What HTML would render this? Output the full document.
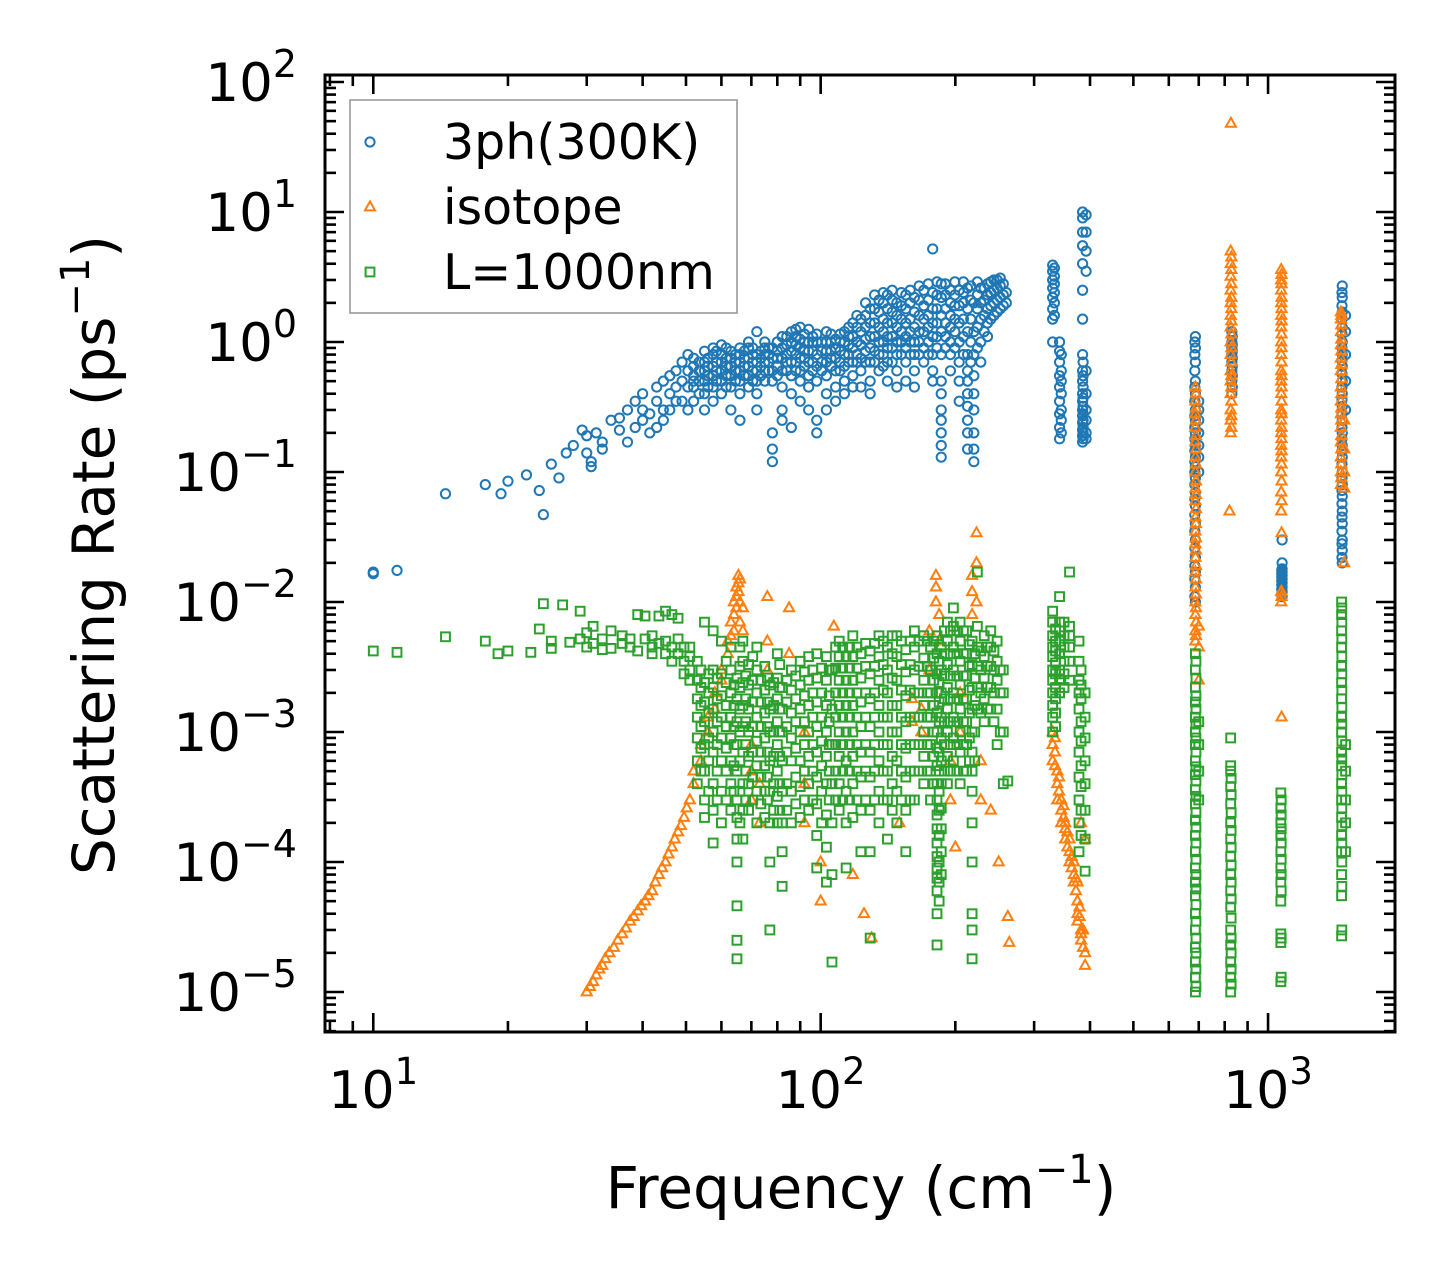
<!DOCTYPE html>
<html><head><meta charset="utf-8"><style>
html,body{margin:0;padding:0;background:#fff;}
svg{display:block;font-family:"DejaVu Sans","Liberation Sans",sans-serif;}
</style></head><body>
<svg id="chart" width="1455" height="1282" viewBox="0 0 1455 1282" xmlns="http://www.w3.org/2000/svg">
<rect width="1455" height="1282" fill="#fff"/>
<g id="marks"></g>
<g id="axes"></g>
<g id="legend"></g>
</svg>
<script>
const xTickExps = [1, 2, 3];
const yTickExps = [2, 1, 0, -1, -2, -3, -4, -5];
const xDomain = [7.8, 1922];
const yDomain = [Math.pow(10, 2 + 7 / 130), Math.pow(10, -5 - 40 / 130)];

const blueData = [
[10,[0.0165,0.017]],[11.3,[0.0175]],[14.5,[0.068]],[17.8,[0.08]],[19.3,[0.068]],[20,[0.085]],[22,[0.095]],[23.5,[0.072]],[24,[0.047]],[25,[0.115]],[26,[0.09]],[27,[0.14]],[28,[0.16]],[29.3,[0.21]],[30,[0.14,0.19]],[30.7,[0.11,0.12]],[31.5,[0.2]],[32.5,[0.17,0.15]],[34,[0.25]],[35.5,[0.26,0.21]],[37,[0.3,0.17]],[38.5,[0.35,0.22]],[40,[0.3,0.25,0.4]],[41.5,[0.28,0.2]],[43,[0.35,0.45,0.22]],[44.5,[0.3,0.5,0.25]],[46,[0.4,0.3,0.55]],[47.5,[0.45,0.35,0.6]],[49,[0.5,0.35,0.7]],[50.5,[0.45,0.6,0.3,0.8]],
[52,[0.35,0.45,0.55,0.65,0.75,0.5]],[55,[0.4,0.5,0.6,0.7,0.85,0.3]],[57.5,[0.45,0.55,0.65,0.8,0.9,0.35]],[60,[0.4,0.5,0.6,0.7,0.8,0.95]],[63,[0.45,0.55,0.65,0.75,0.85,0.3]],[66,[0.5,0.6,0.7,0.8,0.9,0.4,0.25]],[69,[0.45,0.55,0.65,0.75,0.9,1.0]],[72,[0.4,0.5,0.6,0.7,0.8,0.3,1.2]],[75,[0.5,0.6,0.7,0.8,0.9,1.0]],[78,[0.12,0.15,0.2,0.5,0.6,0.75,0.9]],[82,[0.3,0.45,0.6,0.75,0.9,1.1,0.25]],[86,[0.4,0.55,0.7,0.85,1.0,1.2,0.22]],[90,[0.5,0.6,0.75,0.9,1.05,1.3,0.35]],[94,[0.45,0.55,0.7,0.85,1.0,1.25,0.3]],[98,[0.2,0.25,0.5,0.65,0.8,1.0,1.15]],[103,[0.4,0.55,0.7,0.85,1.0,1.2,0.3]],[108,[0.45,0.6,0.75,0.9,1.05,0.35]],[113,[0.5,0.65,0.8,1.0,1.2,0.4]],[118,[0.55,0.7,0.9,1.1,1.4,0.45]],[123,[0.6,0.75,0.95,1.2,1.5,0.45]],[129,[0.5,0.7,0.9,1.1,1.4,1.8,0.4]],[135,[0.6,0.8,1.0,1.3,1.7,2.1]],[141,[0.5,0.7,0.9,1.1,1.4,1.8,2.3]],[148,[0.6,0.8,1.0,1.3,1.6,2.0,0.45]],[155,[0.7,0.9,1.1,1.4,1.8,2.3,0.5]],[162,[0.6,0.8,1.0,1.3,1.7,2.2,0.45]],[170,[0.7,0.9,1.2,1.5,1.9,2.5]],[178,[0.6,0.8,1.1,1.4,1.8,2.4,5.2,0.5]],[186,[0.13,0.16,0.2,0.25,0.3,0.4,0.5,0.8,1.2,1.6,2.2,2.8]],[195,[0.8,1.0,1.3,1.6,2.0,2.5,0.6]],[204,[0.5,0.7,1.0,1.4,1.9,2.5,0.35]],[213,[0.15,0.2,0.25,0.32,0.4,0.5,0.6,0.8,1.2,1.8,2.6]],[220,[0.12,0.15,0.2,0.3,0.4,0.55,0.8,1.2,2.0]],[228,[1.0,1.5,2.0,2.6,0.7]],[236,[1.4,1.8,2.3,2.8,1.1]],[244,[1.6,2.0,2.5,3.0]],[252,[1.8,2.2,2.7,3.1]],[260,[2.0,2.4]],
[330,[1.5,1.8,2.2,2.6,3.0,3.5,3.9,1.0]],[342,[0.18,0.22,0.28,0.35,0.45,0.55,0.7,0.85,1.0]],[385,[0.17,0.19,0.21,0.24,0.27,0.3,0.35,0.4,0.5,0.6,0.8,1.5,2.5,4,5.5,7,9,10]],[392,[0.18,0.2,0.25,0.3,0.4,0.6,3.5,5,7,9.5]],
[688,[0.01,0.013,0.017,0.022,0.03,0.04,0.055,0.07,0.09,0.11,0.13,0.16,0.2,0.25,0.3,0.4,0.5,0.7,0.9,1.1]],[700,[0.1,0.13,0.16,0.2,0.25,0.3,0.35]],[830,[0.4,0.5,0.6,0.7,0.8,0.9,1.0,1.2]],[1075,[0.011,0.012,0.013,0.014,0.015,0.016,0.017,0.018,0.02,0.03]],[1465,[0.02,0.025,0.03,0.04,0.05,0.065,0.08,0.1,0.13,0.16,0.2,0.25,0.32,0.4,0.5,0.65,0.8,1.0,1.3,1.7,2.2,2.7]],[1490,[0.3,0.5,0.8,1.2,1.6]]
];
const blueExtra = [
[53.5,[0.4,0.5,0.6,0.7]],[56,[0.45,0.55,0.65,0.75]],[58.5,[0.5,0.6,0.7,0.85]],[61.5,[0.45,0.55,0.65,0.75,0.9]],[64.5,[0.5,0.6,0.7,0.8]],[67.5,[0.55,0.65,0.75,0.85]],[70.5,[0.5,0.6,0.7,0.8,0.9]],[73.5,[0.55,0.65,0.75,0.85]],[76.5,[0.6,0.7,0.8,0.9]],[80,[0.55,0.65,0.75,0.85,1.0]],[84,[0.6,0.7,0.8,0.95,1.1]],[88,[0.6,0.7,0.8,0.95,1.1,1.25]],[92,[0.65,0.75,0.85,1.0,1.15]],[96,[0.6,0.7,0.85,1.0,1.1]],[100.5,[0.6,0.7,0.85,1.0]],[105.5,[0.65,0.75,0.85,1.0,1.15]],[110.5,[0.6,0.7,0.85,1.0,1.15]],[115.5,[0.7,0.8,0.95,1.1,1.3]],[120.5,[0.7,0.8,1.0,1.3,1.6]],[126,[0.7,0.85,1.05,1.3,1.6,2.0]],[132,[0.7,0.85,1.1,1.4,1.8,2.3]],[138,[0.65,0.8,1.0,1.2,1.5,2.0,2.4]],[144.5,[0.7,0.9,1.1,1.4,1.7,2.1,2.5]],[151.5,[0.8,1.0,1.2,1.5,1.9,2.4]],[158.5,[0.8,1.0,1.2,1.5,2.0,2.5]],[166,[0.8,1.0,1.2,1.6,2.1,2.7]],[174,[0.8,1.0,1.3,1.6,2.1,2.8]],[182,[0.9,1.1,1.4,1.8,2.3,2.9]],[190,[0.9,1.1,1.4,1.8,2.3,2.8]],[199.5,[0.9,1.2,1.5,1.9,2.3,2.9]],[208.5,[0.8,1.1,1.5,2.0,2.4,2.9]],[216.5,[0.7,1.0,1.5,2.1,2.7]],[224,[0.9,1.3,1.8,2.3,2.9]],[232,[1.2,1.6,2.1,2.6]],[240,[1.5,1.9,2.4,2.9]],[248,[1.7,2.1,2.6,3.0]],[256,[1.9,2.3,2.8]],
[686,[0.011,0.015,0.019,0.026,0.035,0.047,0.062,0.08,0.1,0.12,0.145,0.18,0.22,0.27,0.35,0.45,0.6,0.8,1.0]],[1463,[0.022,0.028,0.035,0.045,0.057,0.072,0.09,0.115,0.145,0.18,0.22,0.28,0.36,0.45,0.57,0.72,0.9,1.15,1.5,1.9,2.4]],[386,[0.18,0.2,0.22,0.25,0.28,0.32,0.37,0.45,0.55,0.7]],[333,[1.6,2.0,2.4,2.8,3.2,3.7]],[345,[0.2,0.25,0.3,0.4,0.5,0.6,0.8]],[832,[0.45,0.55,0.65,0.75,0.85,0.95,1.1]],[1073,[0.0115,0.0125,0.0135,0.0145,0.0155,0.0165,0.0175]]
];

const orangeData = [
[30,[1e-5]],[31,[1.2e-5]],[32,[1.5e-5]],[33,[1.8e-5]],[34.5,[2.2e-5]],[36,[2.8e-5]],[37.5,[3.5e-5]],[39,[4.2e-5]],[40.5,[5e-5]],[42,[6e-5]],[43.5,[8e-5]],[45,[1e-4]],[46.5,[1.3e-4]],[48,[1.7e-4]],[49.5,[2.2e-4]],[51,[3e-4]],[52,[4e-4,5e-4]],[54,[6e-4,8e-4]],[56,[1e-3,1.3e-3]],[58,[1.5e-3,2e-3]],[60,[2.5e-3,3e-3]],[62,[4e-3,5e-3]],[64,[6e-3,8e-3,0.01]],[65.5,[0.012,0.016,0.014]],[67,[0.006,0.009]],
[70,[3e-4,5e-4,8e-4]],[73,[2e-4,4e-4]],[76,[0.011,0.005,0.003]],[85,[0.009,0.004]],[92,[0.001,0.0004,0.0002]],[100,[1e-4,5e-5]],[107,[6.5e-3]],[118,[8e-5]],[125,[4e-5]],[130,[2.6e-5]],[150,[2e-4]],[160,[1.2e-3,1.8e-3]],[168,[1e-3,1.5e-3]],[175,[0.003,0.006]],[181,[0.01,0.016,0.013]],[184,[0.008,0.005]],[195,[6e-4,3e-4]],[200,[1.3e-4]],[205,[1e-3,2e-3]],[218,[0.008,0.012,0.016]],[223,[0.02,0.034,0.01]],[228,[6e-4,3e-4]],[240,[2.5e-4]],[250,[1e-4]],[262,[3.8e-5]],[264,[2.4e-5]],
[330,[1e-3,8e-4,6e-4]],[338,[5e-4,4e-4,3e-4]],[345,[3e-4,2.5e-4,2e-4]],[352,[2e-4,1.8e-4,1.5e-4]],[360,[1.5e-4,1.2e-4,1e-4]],[368,[1e-4,8e-5,7e-5]],[375,[7e-5,5e-5,4e-5,3.5e-5]],[382,[3e-5,2.8e-5,2.5e-5,2e-4]],[390,[2e-5,1.6e-5,1.5e-4]],
[688,[0.005,0.006,0.008,0.01,0.013,0.017,0.022,0.028,0.035,0.045,0.06,0.075,0.1,0.13,0.17,0.22,0.28,0.35,0.45]],[700,[0.0065,0.0045,0.0025]],
[825,[0.2,0.25,0.3,0.4,0.5,0.6,0.8,1.0,1.3,1.6,2,2.5,3.2,4,5]],[826,[48]],[820,[0.05]],
[1070,[0.01,0.012,0.05,0.07,0.1,0.13,0.16,0.2,0.25,0.3,0.4,0.5,0.6,0.8,1.0,1.3,1.6,2,2.5,3,3.6]],[1072,[0.0013,0.034,0.012]],
[1455,[0.08,0.1,0.13,0.17,0.22,0.28,0.35,0.45,0.6,0.75,0.95,1.2,1.5,1.7]],[1480,[0.1,0.02,0.075,0.15,0.25]]
];
const orangeExtra = [
[690,[0.0055,0.007,0.009,0.0115,0.015,0.019,0.025,0.031,0.04,0.052,0.067,0.085,0.115,0.15,0.19,0.25,0.31,0.4]],[828,[0.22,0.27,0.35,0.45,0.55,0.7,0.9,1.15,1.45,1.8,2.2,2.8,3.6,4.5]],[1072,[0.011,0.06,0.085,0.115,0.145,0.18,0.22,0.28,0.35,0.45,0.55,0.7,0.9,1.15,1.45,1.8,2.2,2.8,3.3]],[1458,[0.09,0.115,0.15,0.19,0.25,0.31,0.4,0.52,0.67,0.85,1.05,1.35,1.6]],
[334,[9e-4,7e-4,5.5e-4]],[341,[4.5e-4,3.5e-4]],[349,[2.7e-4,2.2e-4]],[356,[1.7e-4,1.3e-4]],[364,[1.1e-4,9e-5]],[372,[7.5e-5,6e-5]],[379,[4.5e-5,3.8e-5]],[386,[3e-5,2.2e-5]],
[30.5,[1.1e-5]],[31.5,[1.35e-5]],[32.5,[1.6e-5]],[33.7,[2e-5]],[35.2,[2.5e-5]],[36.7,[3.1e-5]],[38.2,[3.8e-5]],[39.7,[4.6e-5]],[41.2,[5.5e-5]],[42.7,[7e-5]],[44.2,[9e-5]],[45.7,[1.15e-4]],[47.2,[1.5e-4]],[48.7,[1.9e-4]],[50.2,[2.6e-4]],
[63,[5.5e-3,7e-3]],[64.8,[9e-3,0.011,0.013]],[66,[0.015,0.01,0.007]]
];

const greenData = [
[10,[0.0042]],[11.3,[0.0041]],[14.5,[0.0054]],[17.8,[0.005]],[19,[0.004]],[20,[0.0042]],[22.5,[0.0041]],[23.5,[0.0062]],[24,[0.0097]],[25,[0.0044,0.005]],[26.5,[0.0095]],[27.5,[0.0049]],[29,[0.0085,0.0052]],[30,[0.0045,0.0058]],[31,[0.0065,0.0048]],[32.5,[0.0043,0.0052]],[34,[0.0044,0.006]],[36,[0.0055,0.0048]],[37.5,[0.0045,0.0052]],[39,[0.008,0.0042]],[40.5,[0.0052,0.0078]],[42,[0.0045,0.0055,0.004]],[43.5,[0.0078,0.0048]],[45,[0.004,0.0085,0.005]],[46.5,[0.0035,0.0045,0.008]],[48,[0.004,0.0052,0.0075]],[49.5,[0.0035,0.0045,0.0028]],[51,[0.003,0.0038,0.0025,0.0045]],
[53,[4e-4,6e-4,9e-4,1.3e-3,1.8e-3,2.5e-3,3.5e-3]],[55,[2.2e-4,3e-4,5e-4,8e-4,1.2e-3,1.7e-3,2.4e-3,7e-3]],[57.5,[1.4e-4,2.5e-4,4e-4,7e-4,1e-3,1.5e-3,2.2e-3,3e-3,6e-3]],[60,[2e-4,3.5e-4,6e-4,9e-4,1.3e-3,1.9e-3,2.8e-3,5e-3]],[63,[2.5e-4,4e-4,6e-4,9e-4,1.3e-3,2e-3,3e-3,4.5e-3]],[65,[1.8e-5,2.5e-5,4.6e-5,1e-4,1.5e-4,2.2e-4,3e-4,5e-4,8e-4,1.2e-3,1.8e-3,2.6e-3]],[67,[1.5e-4,2.5e-4,4e-4,7e-4,1.1e-3,1.6e-3,2.4e-3,3.5e-3,5e-3]],[69,[2.5e-4,4e-4,6.5e-4,1e-3,1.5e-3,2.3e-3,3.3e-3]],[72,[2e-4,3.5e-4,5.5e-4,8.5e-4,1.3e-3,2e-3,3e-3,4.5e-3]],[75,[2.2e-4,3.5e-4,5.5e-4,9e-4,1.4e-3,2.1e-3,3.2e-3]],[77,[3e-5,1e-4,2e-4,3.5e-4,6e-4,1e-3,1.5e-3,2.3e-3]],[80,[2e-4,3.2e-4,5e-4,8e-4,1.2e-3,1.8e-3,2.6e-3,4e-3]],[82,[6.5e-5,1.2e-4,2e-4,3.5e-4,6e-4,1e-3,1.5e-3,2.2e-3]],[86,[2e-4,3.5e-4,6e-4,9e-4,1.4e-3,2.1e-3,3e-3]],[90,[2.2e-4,3.8e-4,6e-4,1e-3,1.5e-3,2.3e-3,3.5e-3]],[94,[2.5e-4,4e-4,6.5e-4,1e-3,1.6e-3,2.5e-3,3.8e-3]],[98,[9e-5,1.6e-4,2.8e-4,4.5e-4,7e-4,1.1e-3,1.7e-3,2.6e-3,4e-3]],[103,[7e-5,1.3e-4,2.3e-4,4e-4,6.5e-4,1e-3,1.6e-3,2.5e-3,3.8e-3]],[106,[1.7e-5,8e-5,2e-4,4e-4,8e-4,1.5e-3,3e-3]],[110,[2.5e-4,4e-4,6.5e-4,1e-3,1.6e-3,2.5e-3,3.8e-3,5e-3]],[114,[9e-5,2e-4,3.5e-4,6e-4,1e-3,1.6e-3,2.5e-3,3.8e-3]],[118,[2.2e-4,4e-4,6.5e-4,1e-3,1.6e-3,2.5e-3,3.8e-3,5.5e-3]],[123,[1.2e-4,2.5e-4,4.5e-4,7e-4,1.1e-3,1.7e-3,2.6e-3,4e-3]],[129,[2.6e-5,1.2e-4,2.5e-4,4.5e-4,7e-4,1.1e-3,1.8e-3,2.8e-3,4.2e-3]],[135,[2e-4,3.5e-4,6e-4,1e-3,1.6e-3,2.5e-3,3.8e-3,5.5e-3]],[141,[1.5e-4,3e-4,5e-4,8e-4,1.3e-3,2e-3,3e-3,4.5e-3]],[148,[2e-4,3.5e-4,6e-4,1e-3,1.6e-3,2.5e-3,3.8e-3,5.5e-3]],[155,[1.2e-4,2.5e-4,4.5e-4,7.5e-4,1.2e-3,1.9e-3,2.9e-3,4.3e-3]],[162,[3e-4,5e-4,8e-4,1.3e-3,2e-3,3e-3,4.5e-3,6e-3]],[170,[4e-4,6.5e-4,1e-3,1.6e-3,2.5e-3,3.7e-3,5.5e-3]],[176,[3e-4,5e-4,8e-4,1.3e-3,2e-3,3e-3,4.5e-3]],[182,[2.3e-5,4e-5,6e-5,7.5e-5,9e-5,1.1e-4,1.4e-4,1.8e-4,2.3e-4,3e-4,4e-4,5.5e-4,7.5e-4,1e-3,1.4e-3,2e-3,2.8e-3,4e-3,5.5e-3]],[186,[8e-5,1.2e-4,1.8e-4,2.6e-4,4e-4,6e-4,9e-4,1.3e-3,2e-3,3e-3,4.5e-3]],[192,[4e-4,6.5e-4,1e-3,1.5e-3,2.2e-3,3.3e-3,5e-3,7e-3]],[198,[6e-4,9e-4,1.3e-3,2e-3,3e-3,4.5e-3,6.5e-3,9e-3]],[205,[4e-4,7e-4,1e-3,1.5e-3,2.3e-3,3.5e-3,5e-3,7e-3]],[212,[5e-4,8e-4,1.2e-3,1.8e-3,2.7e-3,4e-3,6e-3]],[218,[1.8e-5,3e-5,4e-5,1e-4,2e-4,3.5e-4,5e-4,7e-4,1e-3,1.5e-3,2.2e-3,3.3e-3,5e-3]],[224,[1.5e-3,2.2e-3,3.2e-3,4.5e-3,6.5e-3,0.017]],[232,[1.2e-3,1.8e-3,2.6e-3,3.8e-3,5.5e-3]],[240,[1.5e-3,2.2e-3,3.2e-3,4.5e-3,6e-3]],[248,[8e-4,1.5e-3,2.5e-3,3.5e-3,5e-3]],[256,[4e-4,1e-3,2e-3,3e-3]],[262,[4.2e-4]],
[330,[1e-3,1.3e-3,1.6e-3,2e-3,2.5e-3,3e-3,3.8e-3,4.5e-3,5.5e-3,7e-3,8.5e-3]],[342,[2e-3,2.5e-3,3e-3,4e-3,5e-3,6e-3,7e-3,1.1e-2]],[360,[2.5e-3,3.5e-3,4.5e-3,5.5e-3,6.5e-3,0.017]],[378,[1.2e-4,2e-4,3e-4,4.5e-4,7e-4,1e-3,1.5e-3,2e-3,2.5e-3,3.5e-3,5e-3]],[390,[8.5e-5,1.5e-4,2.5e-4,4e-4,6e-4,9e-4,1.3e-3,2e-3]],
[688,[1e-5,1.3e-5,1.7e-5,2.2e-5,3e-5,4e-5,5.5e-5,7e-5,9e-5,1.2e-4,1.6e-4,2.1e-4,2.8e-4,3.6e-4,4.7e-4,6e-4,8e-4,1e-3,1.3e-3,1.7e-3,2.2e-3,3e-3,4e-3]],[700,[3e-4,5e-4,8e-4,1.2e-3]],
[825,[1e-5,1.3e-5,1.7e-5,2.3e-5,3e-5,4.5e-5,6e-5,8e-5,1.1e-4,1.5e-4,2e-4,2.8e-4,3.8e-4,5e-4,5.5e-4,9e-4]],
[1068,[1.2e-5,2.4e-5,2.8e-5,5e-5,7e-5,9e-5,1.2e-4,1.6e-4,2e-4,2.6e-4,3.4e-4]],
[1460,[2.7e-5,5.5e-5,8e-5,1.2e-4,1.6e-4,2.2e-4,3e-4,4e-4,5.5e-4,7e-4,1e-3,1.3e-3,1.8e-3,2.4e-3,3.2e-3,4.5e-3,6e-3,8e-3,1e-2]],[1490,[1.2e-4,2e-4,3e-4,5e-4,8e-4]]
];
const greenExtra = [
[54,[5e-4,7.5e-4,1.1e-3,1.6e-3,2.2e-3,3e-3]],[56.2,[3.5e-4,6e-4,9e-4,1.4e-3,2e-3,2.8e-3]],[58.7,[3e-4,5e-4,8e-4,1.2e-3,1.8e-3,2.6e-3]],[61.5,[3e-4,5e-4,7.5e-4,1.1e-3,1.6e-3,2.4e-3,3.5e-3]],[64,[3.5e-4,5.5e-4,8e-4,1.1e-3,1.6e-3,2.3e-3]],[66,[2e-4,3.5e-4,6e-4,1e-3,1.5e-3,2.2e-3,3.2e-3,4.5e-3]],[68,[3e-4,5e-4,8e-4,1.2e-3,1.8e-3,2.7e-3]],[70.5,[3e-4,4.5e-4,7e-4,1.1e-3,1.7e-3,2.5e-3,3.8e-3]],[73.5,[2.8e-4,4.5e-4,7e-4,1.1e-3,1.7e-3,2.5e-3]],[76,[3e-4,4.5e-4,7e-4,1.1e-3,1.7e-3,2.6e-3]],[78.5,[2.5e-4,4e-4,6.5e-4,1e-3,1.6e-3,2.4e-3]],[81,[2.5e-4,4e-4,6.5e-4,1e-3,1.5e-3,2.2e-3,3.3e-3]],[84,[2.5e-4,4e-4,7e-4,1.1e-3,1.7e-3,2.5e-3]],[88,[2.8e-4,4.5e-4,7.5e-4,1.2e-3,1.8e-3,2.7e-3]],[92,[3e-4,5e-4,8e-4,1.2e-3,1.9e-3,2.9e-3]],[96,[3e-4,5e-4,8e-4,1.3e-3,2e-3,3e-3]],[100.5,[2e-4,3.5e-4,5.5e-4,8.5e-4,1.3e-3,2e-3,3.1e-3]],[104.5,[3e-4,5e-4,8e-4,1.2e-3,1.9e-3,3e-3]],[108,[3e-4,5e-4,8e-4,1.3e-3,2e-3,3.1e-3,4.5e-3]],[112,[3e-4,5e-4,8e-4,1.3e-3,2e-3,3.1e-3,4.5e-3]],[116,[3e-4,5e-4,8e-4,1.3e-3,2e-3,3.1e-3,4.5e-3]],[120.5,[3e-4,5e-4,8e-4,1.3e-3,2e-3,3.1e-3,4.5e-3]],[126,[3e-4,5e-4,8e-4,1.3e-3,2e-3,3.2e-3,4.8e-3]],[132,[3e-4,5e-4,8e-4,1.3e-3,2e-3,3.2e-3,4.8e-3]],[138,[3e-4,5e-4,8e-4,1.3e-3,2.1e-3,3.3e-3,5e-3]],[144.5,[2.5e-4,4e-4,6.5e-4,1e-3,1.6e-3,2.6e-3,4e-3,5.5e-3]],[151.5,[3e-4,5e-4,8e-4,1.3e-3,2.1e-3,3.3e-3,5e-3]],[158.5,[3e-4,5e-4,8e-4,1.3e-3,2.1e-3,3.3e-3,5e-3]],[166,[5e-4,8e-4,1.3e-3,2e-3,3.2e-3,5e-3]],[173,[5e-4,8e-4,1.3e-3,2e-3,3.2e-3,5e-3]],[179,[4e-4,6.5e-4,1e-3,1.6e-3,2.5e-3,3.7e-3,5e-3]],[184,[5e-5,7e-5,1e-4,1.6e-4,2.5e-4,3.5e-4,5e-4,7e-4,1.2e-3,1.7e-3,2.4e-3,3.5e-3]],[189,[5e-4,8e-4,1.2e-3,1.8e-3,2.7e-3,4e-3,6e-3]],[195,[5e-4,8e-4,1.2e-3,1.8e-3,2.7e-3,4e-3,6e-3]],[201.5,[5e-4,8e-4,1.2e-3,1.8e-3,2.7e-3,4e-3,6e-3]],[208.5,[5e-4,8e-4,1.2e-3,1.8e-3,2.7e-3,4e-3,6e-3]],[215,[6e-4,9e-4,1.4e-3,2.1e-3,3.2e-3,4.7e-3]],[221,[6e-4,1e-3,1.6e-3,2.6e-3,4e-3]],[228,[1.4e-3,2e-3,3e-3,4.2e-3]],[236,[1.5e-3,2.2e-3,3.2e-3,4.5e-3]],[244,[1.2e-3,2e-3,3e-3,4.2e-3]],[252,[1e-3,2e-3,3e-3]],
[335,[1.1e-3,1.4e-3,1.8e-3,2.2e-3,2.8e-3,3.4e-3,4.2e-3,5e-3,6.2e-3]],[350,[2.2e-3,2.8e-3,3.5e-3,4.5e-3,5.5e-3,7e-3]],[382,[1.6e-4,2.5e-4,3.8e-4,5.5e-4,8.5e-4,1.2e-3,1.8e-3,2.3e-3,3e-3]],[690,[1.1e-5,1.5e-5,2e-5,2.6e-5,3.5e-5,4.7e-5,6.2e-5,8e-5,1.05e-4,1.4e-4,1.85e-4,2.4e-4,3.2e-4,4.2e-4,5.4e-4,7e-4,9e-4,1.15e-3,1.5e-3,1.9e-3,2.6e-3,3.5e-3]],[827,[1.15e-5,1.5e-5,2e-5,2.6e-5,3.7e-5,5.2e-5,7e-5,9.5e-5,1.3e-4,1.75e-4,2.4e-4,3.3e-4,4.4e-4]],[1070,[1.3e-5,2.6e-5,6e-5,8e-5,1.05e-4,1.4e-4,1.8e-4,2.3e-4,3e-4]],[1462,[3e-5,6.5e-5,1e-4,1.4e-4,1.9e-4,2.6e-4,3.5e-4,4.7e-4,6.2e-4,8.5e-4,1.15e-3,1.55e-3,2.1e-3,2.8e-3,3.8e-3,5.2e-3,7e-3,9e-3]]
];

const legendLabels = ["3ph(300K)", "isotope", "L=1000nm"];

const NS = "http://www.w3.org/2000/svg";
const L = 325, R = 1395, T = 75, B = 1032;
function xScale(v){ const a=Math.log10(xDomain[0]), b=Math.log10(xDomain[1]); return L + (Math.log10(v)-a)/(b-a)*(R-L); }
function yScale(v){ const a=Math.log10(yDomain[0]), b=Math.log10(yDomain[1]); return T + (Math.log10(v)-a)/(b-a)*(B-T); }
function mk(tag, attrs, parent){ const e=document.createElementNS(NS, tag); for(const k in attrs) e.setAttribute(k, attrs[k]); parent.appendChild(e); return e; }

const marks = document.getElementById('marks');
const C_BLUE="#1f77b4", C_OR="#ff7f0e", C_GR="#2ca02c";
function circle(x,y,parent){ return mk('circle',{cx:x,cy:y,r:4.6,fill:'none',stroke:C_BLUE,'stroke-width':2},parent); }
function tri(x,y,parent){ const s=5.6; return mk('polygon',{points:`${x},${y-s} ${x-s*0.9},${y+s*0.6} ${x+s*0.9},${y+s*0.6}`,fill:'none',stroke:C_OR,'stroke-width':2},parent); }
function sq(x,y,parent){ return mk('rect',{x:x-4.4,y:y-4.4,width:8.8,height:8.8,fill:'none',stroke:C_GR,'stroke-width':2},parent); }

const gB = mk('g',{},marks);


blueData.concat(blueExtra).forEach(([f, rs]) => rs.forEach(r => {
  const el = circle(xScale(f), yScale(r), gB);
  
  
}));
const gO = mk('g',{},marks);


orangeData.concat(orangeExtra).forEach(([f, rs]) => rs.forEach(r => {
  const el = tri(xScale(f), yScale(r), gO);
  
  
}));
const gG = mk('g',{},marks);


greenData.concat(greenExtra).forEach(([f, rs]) => rs.forEach(r => {
  const el = sq(xScale(f), yScale(r), gG);
  
  
}));

// axes
const axes = document.getElementById('axes');
const frame = mk('rect',{x:L,y:T,width:R-L,height:B-T,fill:'none',stroke:'#000','stroke-width':3},axes);


function tick(x1,y1,x2,y2,w){ mk('line',{x1,y1,x2,y2,stroke:'#000','stroke-width':w},axes); }
for(let e=0;e<=4;e++){ for(let m=1;m<10;m++){ const v=m*Math.pow(10,e); if(v<xDomain[0]||v>xDomain[1]) continue; const x=xScale(v); const len=m===1?19:11; tick(x,B,x,B-len,2.6); tick(x,T,x,T+len,2.6);} }
for(let e=-6;e<=2;e++){ for(let m=1;m<10;m++){ const v=m*Math.pow(10,e); if(v>yDomain[0]||v<yDomain[1]) continue; const y=yScale(v); const len=m===1?19:11; tick(L,y,L+len,y,2.6); tick(R,y,R-len,y,2.6);} }
xTickExps.forEach(e => {
  const x = xScale(Math.pow(10,e));
  const t = mk('text',{x:x,y:1108,'text-anchor':'middle','font-size':52,fill:'#000'},axes);
  
  
  t.innerHTML = `10<tspan font-size="37" dy="-24">${e}</tspan>`;
});
yTickExps.forEach(e => {
  const y = yScale(Math.pow(10,e));
  const t = mk('text',{x:297,y:y+19,'text-anchor':'end','font-size':53,fill:'#000'},axes);
  
  
  t.innerHTML = `10<tspan font-size="38" dy="-24">${e<0?'\u2212'+(-e):e}</tspan>`;
});
const xt = mk('text',{x:861,y:1208,'text-anchor':'middle','font-size':58,fill:'#000'},axes);


xt.innerHTML = 'Frequency (cm<tspan font-size="40" dy="-25">\u22121</tspan><tspan dy="25">)</tspan>';
const yt = mk('text',{x:0,y:0,'text-anchor':'middle','font-size':58,fill:'#000',transform:'translate(114,555) rotate(-90)'},axes);


yt.innerHTML = 'Scattering Rate (ps<tspan font-size="40" dy="-25">\u22121</tspan><tspan dy="25">)</tspan>';

// legend
const lg = document.getElementById('legend');
const box = mk('rect',{x:350,y:100,width:387,height:213,fill:'#fff','fill-opacity':0.8,stroke:'#999','stroke-width':1.6},lg);


const drawFns = [circle, tri, sq];
legendLabels.forEach((lab, i) => {
  const y = 142 + i*65;
  const m = drawFns[i](370, y, lg);
  
  
  const t = mk('text',{x:443,y:y+17,'font-size':49,fill:'#000'},lg);
  
  
  t.textContent = lab;
});
</script>
</body></html>
